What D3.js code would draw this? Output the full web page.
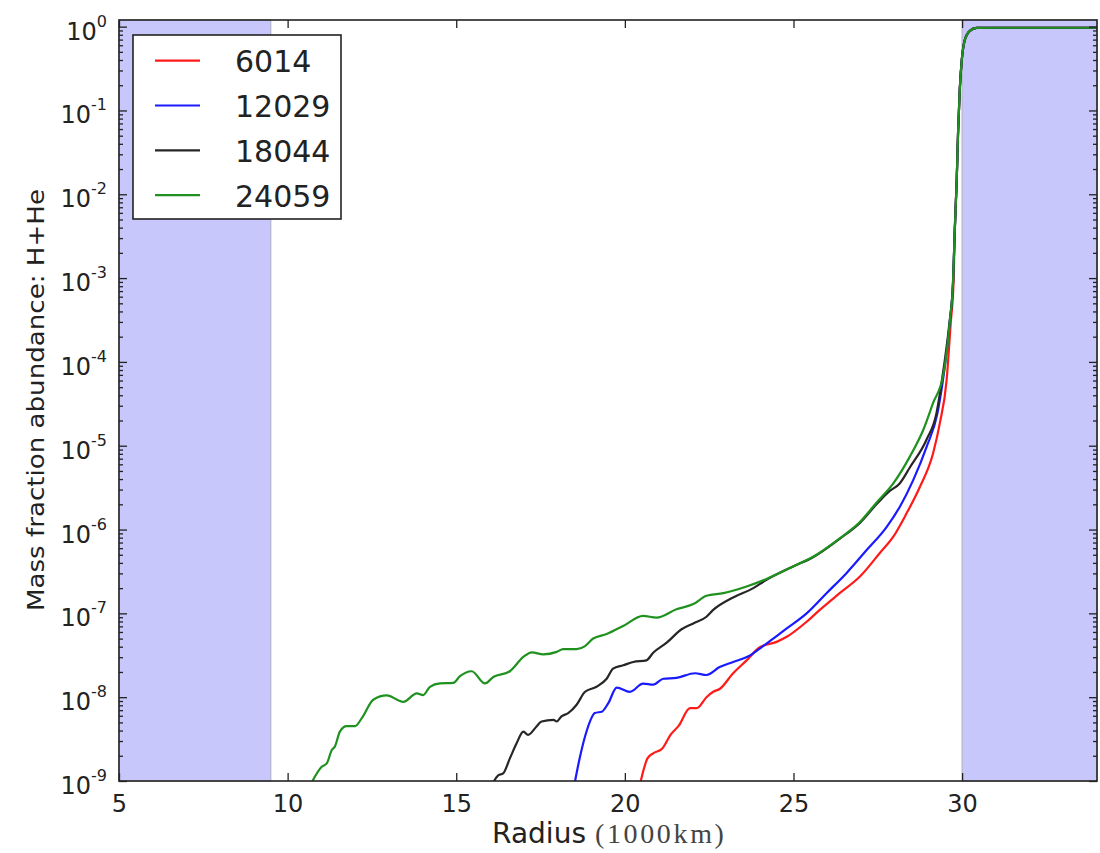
<!DOCTYPE html>
<html><head><meta charset="utf-8">
<script src="https://cdn.jsdelivr.net/npm/d3@7"></script>
<style>body{margin:0;background:#fff}svg{display:block}</style>
</head><body><svg id="c" width="1100" height="853"></svg>
<script>
// ---- data ----
const seriesNames = ["6014", "12029", "18044", "24059"];
const seriesColors = ["#ff1a1a", "#1a1aff", "#262626", "#1f911f"];

const r6014 = [20.46,20.67,20.84,21.11,21.37,21.60,21.93,22.13,22.42,22.62,22.82,23.21,23.61,24.00,24.50,24.80,25.39,25.78,26.37,26.97,27.56,27.96,28.35,28.75,29.14,29.34,29.54,29.66,29.75,29.78,29.84,29.88,29.93,29.99,30.08,30.23,30.43,31.0,34.0];
const v6014 = [9.55e-10,1.86e-9,2.14e-9,2.45e-9,3.63e-9,4.57e-9,7.41e-9,7.41e-9,1.0e-8,1.16e-8,1.26e-8,1.93e-8,2.75e-8,3.94e-8,4.57e-8,5.25e-8,7.94e-8,1.10e-7,1.74e-7,2.75e-7,5.25e-7,8.22e-7,1.55e-6,3.24e-6,8.13e-6,1.86e-5,6.03e-5,2.82e-4,1.0e-3,3.47e-3,1.48e-2,5.37e-2,0.176,0.398,0.692,0.891,0.966,0.97,0.97];

const r12029 = [18.50,18.67,18.87,19.11,19.33,19.51,19.76,20.15,20.54,20.84,21.14,21.53,22.08,22.42,22.81,23.21,23.65,24.00,24.40,24.80,25.39,25.98,26.57,27.17,27.76,28.15,28.55,28.95,29.27,29.42,29.52,29.64,29.73,29.78,29.84,29.88,29.93,29.99,30.08,30.23,30.43,31.0,34.0];
const v12029 = [8.91e-10,1.95e-9,3.98e-9,6.46e-9,6.76e-9,8.51e-9,1.30e-8,1.16e-8,1.45e-8,1.41e-8,1.66e-8,1.70e-8,1.93e-8,1.84e-8,2.29e-8,2.63e-8,3.05e-8,3.80e-8,5.01e-8,6.61e-8,1.0e-7,1.74e-7,3.02e-7,5.69e-7,1.07e-6,1.86e-6,3.89e-6,9.77e-6,2.45e-5,5.62e-5,1.12e-4,3.16e-4,8.71e-4,3.47e-3,1.48e-2,5.37e-2,0.176,0.398,0.692,0.891,0.966,0.97,0.97];

const r18044 = [16.05,16.245,16.39,16.59,16.79,16.99,17.13,17.38,17.53,17.88,17.98,18.12,18.32,18.57,18.82,19.16,19.46,19.65,19.95,20.25,20.64,20.84,21.24,21.68,22.03,22.42,22.62,23.21,23.81,24.20,24.99,25.58,26.37,26.97,27.46,27.82,28.15,28.45,28.94,29.24,29.39,29.48,29.62,29.73,29.78,29.84,29.88,29.93,29.99,30.08,30.23,30.43,31.0,34.0];
const v18044 = [8.9e-10,1.17e-9,1.23e-9,1.86e-9,2.82e-9,3.89e-9,3.55e-9,4.47e-9,5.13e-9,5.37e-9,5.13e-9,5.89e-9,6.46e-9,8.13e-9,1.16e-8,1.33e-8,1.66e-8,2.19e-8,2.40e-8,2.63e-8,2.75e-8,3.39e-8,4.47e-8,6.46e-8,7.59e-8,9.12e-8,1.10e-7,1.55e-7,2.00e-7,2.51e-7,3.63e-7,4.68e-7,7.76e-7,1.20e-6,2.00e-6,2.82e-6,3.55e-6,5.50e-6,1.17e-5,2.45e-5,5.62e-5,1.0e-4,2.82e-4,8.71e-4,3.47e-3,1.48e-2,5.37e-2,0.176,0.398,0.692,0.891,0.966,0.97,0.97];

const r24059 = [10.71,11.01,11.16,11.31,11.40,11.55,11.75,12.00,12.20,12.54,12.94,13.43,13.83,14.02,14.22,14.52,14.91,15.11,15.46,15.85,16.10,16.59,16.99,17.24,17.58,17.98,18.17,18.57,18.82,19.06,19.46,19.95,20.54,20.94,21.53,22.03,22.42,22.92,23.61,24.20,24.99,25.58,26.37,26.97,27.46,27.96,28.45,28.85,29.14,29.44,29.55,29.64,29.73,29.78,29.84,29.88,29.93,29.99,30.08,30.23,30.43,31.0,34.0];
const v24059 = [9.55e-10,1.48e-9,1.62e-9,2.34e-9,2.57e-9,3.89e-9,4.52e-9,4.52e-9,5.62e-9,9.33e-9,1.05e-8,8.81e-9,1.11e-8,1.06e-8,1.33e-8,1.46e-8,1.48e-8,1.78e-8,2.04e-8,1.46e-8,1.74e-8,2.04e-8,3.02e-8,3.43e-8,3.24e-8,3.47e-8,3.75e-8,3.75e-8,4.07e-8,5.01e-8,5.66e-8,7.08e-8,9.33e-8,8.91e-8,1.12e-7,1.29e-7,1.62e-7,1.74e-7,2.09e-7,2.57e-7,3.63e-7,4.73e-7,7.85e-7,1.23e-6,2.09e-6,3.55e-6,7.41e-6,1.55e-5,3.24e-5,6.92e-5,1.38e-4,3.16e-4,8.71e-4,3.47e-3,1.48e-2,5.37e-2,0.176,0.398,0.692,0.891,0.966,0.97,0.97];

const shadedSpans = [[5, 9.5], [30, 34]];
const xTicks = [5, 10, 15, 20, 25, 30];
const yTickExps = [0, -1, -2, -3, -4, -5, -6, -7, -8, -9];
const xDomain = [5, 34];
const yDomain = [1e-9, 1.2];

// ---- layout ----
const L = 119, R = 1097, T = 20, B = 781;
const svg = d3.select("#c");
const x = d3.scaleLinear().domain(xDomain).range([L, R]);
const y = d3.scaleLog().domain(yDomain).range([B, T]);
const INK = "#222";

svg.append("defs").append("clipPath").attr("id", "clip")
  .append("rect").attr("x", L).attr("y", T).attr("width", R - L).attr("height", B - T);

// shaded spans
svg.append("g").selectAll("rect").data(shadedSpans).join("rect")
  .attr("x", d => x(d[0])).attr("y", T)
  .attr("width", d => x(d[1]) - x(d[0])).attr("height", B - T)
  .attr("fill", "#c7c7fc").attr("stroke", "#b4b4cc").attr("stroke-width", 1.2);

// lines
const series = [
  { name: seriesNames[0], color: seriesColors[0], r: r6014, v: v6014 },
  { name: seriesNames[1], color: seriesColors[1], r: r12029, v: v12029 },
  { name: seriesNames[2], color: seriesColors[2], r: r18044, v: v18044 },
  { name: seriesNames[3], color: seriesColors[3], r: r24059, v: v24059 }
];
const line = d3.line().curve(d3.curveMonotoneX).x(d => x(d[0])).y(d => y(d[1]));
svg.append("g").attr("clip-path", "url(#clip)").selectAll("path").data(series).join("path")
  .attr("d", s => line(s.r.map((rr, i) => [rr, s.v[i]])))
  .attr("fill", "none").attr("stroke", s => s.color).attr("stroke-width", 2.2)
  .attr("stroke-linejoin", "round");

// frame
svg.append("rect").attr("x", L).attr("y", T).attr("width", R - L).attr("height", B - T)
  .attr("fill", "none").attr("stroke", INK).attr("stroke-width", 1.6);

// axes (inward ticks)
const gx = svg.append("g").attr("transform", `translate(0,${B})`)
  .call(d3.axisBottom(x).tickValues(xTicks).tickSize(-8).tickPadding(14).tickFormat(d3.format("d")));
const gxt = svg.append("g").attr("transform", `translate(0,${T})`)
  .call(d3.axisTop(x).tickValues(xTicks).tickSize(-8).tickFormat(""));

const majors = yTickExps.map(e => Math.pow(10, e));
const minors = [];
for (let e = -9; e < 0; e++) for (let k = 2; k <= 9; k++) minors.push(k * Math.pow(10, e));
const gyl = svg.append("g").attr("transform", `translate(${L},0)`)
  .call(d3.axisLeft(y).tickValues(majors).tickSize(-8).tickFormat(""));
const gylm = svg.append("g").attr("transform", `translate(${L},0)`)
  .call(d3.axisLeft(y).tickValues(minors).tickSize(-4).tickFormat(""));
const gyr = svg.append("g").attr("transform", `translate(${R},0)`)
  .call(d3.axisRight(y).tickValues(majors).tickSize(-8).tickFormat(""));
const gyrm = svg.append("g").attr("transform", `translate(${R},0)`)
  .call(d3.axisRight(y).tickValues(minors).tickSize(-4).tickFormat(""));

[gx, gxt, gyl, gylm, gyr, gyrm].forEach(g => {
  g.select(".domain").remove();
  g.selectAll(".tick line").attr("stroke", INK).attr("stroke-width", 1.3);
});
gx.selectAll(".tick text").attr("font-family", "DejaVu Sans").attr("font-size", 24).attr("fill", INK);

// y tick labels 10^n
const yl = svg.append("g").selectAll("text").data(yTickExps).join("text")
  .attr("x", 107).attr("y", e => y(Math.pow(10, e)) + 13)
  .attr("text-anchor", "end").attr("font-family", "DejaVu Sans").attr("fill", INK);
yl.append("tspan").attr("font-size", 24).text("10");
yl.append("tspan").attr("font-size", 16).attr("dy", -13).text(e => String(e));

// axis titles
const xt = svg.append("text").attr("x", (L + R) / 2).attr("y", 843).attr("text-anchor", "middle").attr("fill", INK);
xt.append("tspan").attr("font-family", "DejaVu Sans").attr("font-size", 28).text("Radius ");
xt.append("tspan").attr("font-family", "Liberation Serif").attr("font-size", 28).attr("fill", "#444")
  .attr("textLength", 129).attr("lengthAdjust", "spacing").text("(1000km)");

svg.append("text").attr("transform", "translate(43.5,400) rotate(-90)")
  .attr("text-anchor", "middle").attr("font-family", "DejaVu Sans").attr("font-size", 23)
  .attr("textLength", 422).attr("lengthAdjust", "spacingAndGlyphs")
  .attr("fill", INK).text("Mass fraction abundance: H+He");

// legend
const lg = svg.append("g");
lg.append("rect").attr("x", 133).attr("y", 35).attr("width", 208).attr("height", 184)
  .attr("fill", "#fff").attr("stroke", INK).attr("stroke-width", 1.6);
const items = lg.selectAll("g.item").data(series).join("g").attr("class", "item")
  .attr("transform", (d, i) => `translate(0,${60.7 + i * 44.8})`);
items.append("line").attr("x1", 155).attr("x2", 200).attr("y1", 0).attr("y2", 0)
  .attr("stroke", d => d.color).attr("stroke-width", 2.2);
items.append("text").attr("x", 235).attr("y", 11.5).attr("font-family", "DejaVu Sans")
  .attr("font-size", 30).attr("fill", INK).text(d => d.name);
</script></body></html>
